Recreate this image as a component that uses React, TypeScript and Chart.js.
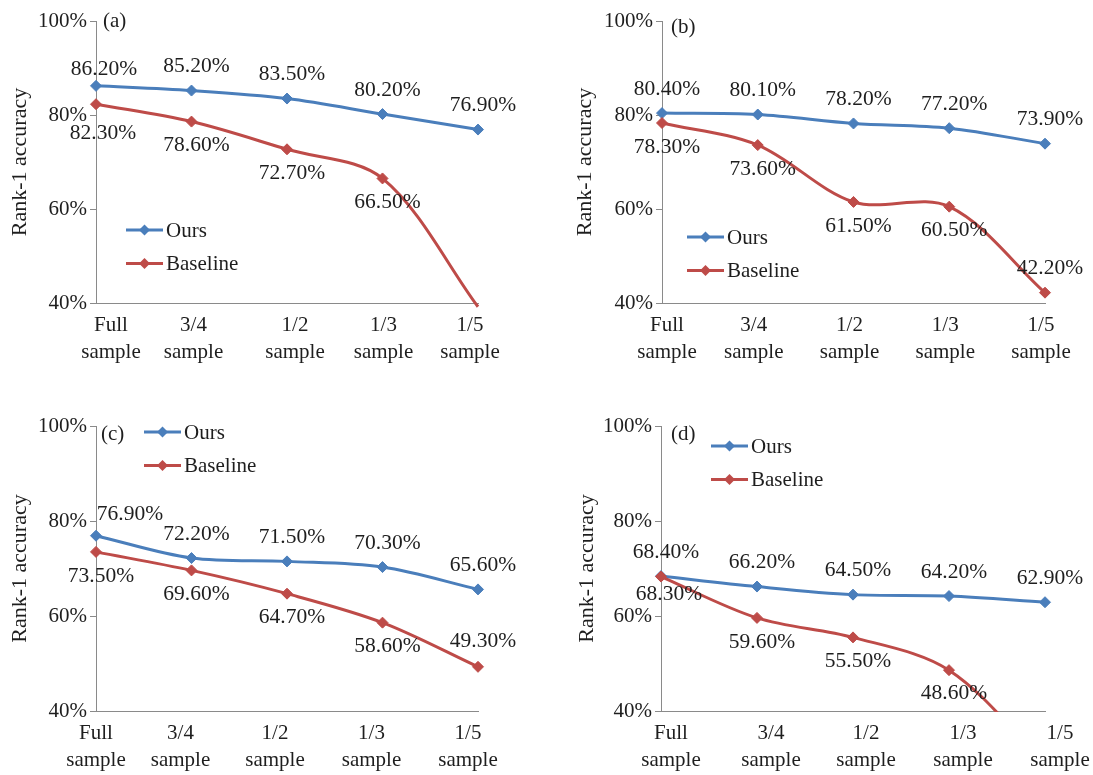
import React, { useEffect, useRef } from 'react';
import { Chart, registerables } from 'chart.js';

Chart.register(...registerables);

// ---------- data ----------
const categories = [
  ['Full', 'sample'],
  ['3/4', 'sample'],
  ['1/2', 'sample'],
  ['1/3', 'sample'],
  ['1/5', 'sample'],
];
const yTicks = [40, 60, 80, 100];
const seriesNames = ['Ours', 'Baseline'];

const oursA = [86.2, 85.2, 83.5, 80.2, 76.9];
const baselineA = [82.3, 78.6, 72.7, 66.5, 39.2];
const oursB = [80.4, 80.1, 78.2, 77.2, 73.9];
const baselineB = [78.3, 73.6, 61.5, 60.5, 42.2];
const oursC = [76.9, 72.2, 71.5, 70.3, 65.6];
const baselineC = [73.5, 69.6, 64.7, 58.6, 49.3];
const oursD = [68.4, 66.2, 64.5, 64.2, 62.9];
const baselineD = [68.3, 59.6, 55.5, 48.6, 29.0];

const panelLetters = ['(a)', '(b)', '(c)', '(d)'];
const yTitle = 'Rank-1 accuracy';

// ---------- styles ----------
const FONT = '"Liberation Serif", "Times New Roman", "DejaVu Serif", serif';
const TEXT = '#1e1e1e';
const AXIS = '#8a8a8a';
const BLUE = '#4A7EBB';
const RED = '#BE4B48';
const LABEL_PX = 21.5;
const TICK_PX = 21;
const TITLE_PX = 22;

const up = [5, -24];
const dn = [5, 24];

const panels = [
  {
    letter: panelLetters[0], ours: oursA, base: baselineA,
    left: 0, top: 0, width: 546, height: 387,
    padTop: 21, axisW: 96, padRight: 68, xAxisH: 84, titlePad: 7,
    xLabelShift: [15, 2, 8, 1, -8], legendPos: [30, 209], letterPos: [7, 0],
    oursLabels: [[8, -17], up, up, up, up],
    baseLabels: [[7, 29], dn, dn, dn, dn],
    clipBottom: 5,
  },
  {
    letter: panelLetters[1], ours: oursB, base: baselineB,
    left: 546, top: 0, width: 547, height: 387,
    padTop: 21, axisW: 116, padRight: 48, xAxisH: 84, titlePad: 26,
    xLabelShift: [5, -4, -4, -4, -4], legendPos: [25, 216], letterPos: [9, 6],
    oursLabels: [up, up, up, up, up],
    baseLabels: [dn, dn, dn, dn, up],
    clipBottom: 5,
  },
  {
    letter: panelLetters[2], ours: oursC, base: baselineC,
    left: 0, top: 387, width: 546, height: 388,
    padTop: 39, axisW: 96, padRight: 68, xAxisH: 64, titlePad: 7,
    xLabelShift: [0, -11, -12, -11, -10], legendPos: [48, 6], letterPos: [5, 8],
    oursLabels: [[34, -21], up, up, up, up],
    baseLabels: [dn, dn, dn, dn, [5, -25]],
    clipBottom: 5,
  },
  {
    letter: panelLetters[3], ours: oursD, base: baselineD,
    left: 546, top: 387, width: 547, height: 388,
    padTop: 39, axisW: 115, padRight: 48, xAxisH: 64, titlePad: 28,
    xLabelShift: [10, 14, 13, 14, 15], legendPos: [50, 20], letterPos: [10, 8],
    oursLabels: [up, up, up, up, up],
    baseLabels: [[8, 18], dn, dn, [5, 23], dn],
    clipBottom: 1,
  },
];

function makeOverlay(panel: any) {
  return {
    id: 'overlay' + panel.letter,
    afterDatasetsDraw(chart: any) {
      const { ctx, chartArea } = chart;
      const yScale = chart.scales.y;
      const xScale = chart.scales.x;
      ctx.save();
      ctx.fillStyle = TEXT;
      ctx.textAlign = 'center';
      ctx.textBaseline = 'middle';
      // category labels (x axis)
      ctx.font = `${TICK_PX}px ${FONT}`;
      const lineH = 27;
      (chart.data.labels as any[]).forEach((lab: any, i: number) => {
        const x = xScale.getPixelForTick(i) + panel.xLabelShift[i];
        const lines = Array.isArray(lab) ? lab : [lab];
        lines.forEach((t: string, k: number) => {
          ctx.fillText(t, x, chartArea.bottom + 22 + k * lineH);
        });
      });
      // data labels
      ctx.font = `${LABEL_PX}px ${FONT}`;
      chart.data.datasets.forEach((ds: any, di: number) => {
        const meta = chart.getDatasetMeta(di);
        const place = di === 0 ? panel.oursLabels : panel.baseLabels;
        meta.data.forEach((pt: any, i: number) => {
          const v = ds.data[i];
          if (v < yScale.min) return;
          const [dx, dy] = place[i];
          ctx.fillText(v.toFixed(2) + '%', pt.x + dx, pt.y + dy);
        });
      });
      // panel letter
      ctx.font = `${TICK_PX}px ${FONT}`;
      ctx.textAlign = 'left';
      ctx.fillText(panel.letter, chartArea.left + panel.letterPos[0], chartArea.top + panel.letterPos[1]);
      // legend
      chart.data.datasets.forEach((ds: any, di: number) => {
        const x0 = chartArea.left + panel.legendPos[0];
        const y = chartArea.top + panel.legendPos[1] + di * 33.5;
        ctx.strokeStyle = ds.borderColor;
        ctx.lineWidth = 3;
        ctx.beginPath();
        ctx.moveTo(x0, y);
        ctx.lineTo(x0 + 37, y);
        ctx.stroke();
        const cx = x0 + 18.5;
        const r = 5.5;
        ctx.fillStyle = ds.borderColor;
        ctx.beginPath();
        ctx.moveTo(cx, y - r);
        ctx.lineTo(cx + r, y);
        ctx.lineTo(cx, y + r);
        ctx.lineTo(cx - r, y);
        ctx.closePath();
        ctx.fill();
        ctx.fillStyle = TEXT;
        ctx.fillText(ds.label, x0 + 40, y + 1);
      });
      ctx.restore();
    },
  };
}

function Panel({ panel }: { panel: any }) {
  const ref = useRef<HTMLCanvasElement>(null);
  useEffect(() => {
    if (!ref.current) return;
    const mkDs = (label: string, data: number[], color: string, order: number) => ({
      label,
      data,
      borderColor: color,
      backgroundColor: color,
      pointBackgroundColor: color,
      pointBorderColor: color,
      borderWidth: 3,
      pointStyle: 'rectRot',
      pointRadius: (c: any) => (c.raw < 40 ? 0 : 5.5),
      pointBorderWidth: 1,
      tension: 0.33,
      order,
      clip: { left: 10, right: 10, top: 10, bottom: panel.clipBottom },
    });
    const chart = new Chart(ref.current, {
      type: 'line',
      data: {
        labels: categories,
        datasets: [
          mkDs(seriesNames[0], panel.ours, BLUE, 1),
          mkDs(seriesNames[1], panel.base, RED, 0),
        ],
      },
      plugins: [makeOverlay(panel)],
      options: {
        animation: false,
        responsive: false,
        devicePixelRatio: 1,
        events: [],
        layout: { padding: { left: 0, top: panel.padTop, right: panel.padRight, bottom: 0 } },
        elements: { line: { capBezierPoints: false } },
        plugins: { legend: { display: false }, tooltip: { enabled: false }, title: { display: false } },
        scales: {
          x: {
            type: 'category',
            offset: false,
            grid: { display: false, drawTicks: false, drawOnChartArea: false },
            border: { display: true, color: AXIS, width: 1 },
            ticks: { display: false, autoSkip: false, maxRotation: 0, minRotation: 0 },
            afterFit: (s: any) => { s.height = panel.xAxisH; },
          },
          y: {
            min: 40,
            max: 100,
            afterBuildTicks: (s: any) => { s.ticks = yTicks.map((v) => ({ value: v })); },
            grid: { display: true, drawOnChartArea: false, drawTicks: true, tickLength: 6, color: AXIS },
            border: { display: true, color: AXIS, width: 1 },
            ticks: {
              padding: 3,
              color: TEXT,
              font: { family: FONT, size: TICK_PX },
              callback: (v: any) => v + '%',
            },
            title: {
              display: true,
              text: yTitle,
              color: TEXT,
              font: { family: FONT, size: TITLE_PX, lineHeight: 1.2 },
              padding: { top: panel.titlePad, bottom: 0 },
            },
            afterFit: (s: any) => { s.width = panel.axisW; },
          },
        },
      },
    } as any);
    return () => chart.destroy();
  }, [panel]);
  return (
    <canvas
      ref={ref}
      width={panel.width}
      height={panel.height}
      style={{ position: 'absolute', left: panel.left, top: panel.top, width: panel.width, height: panel.height }}
    />
  );
}

export default function App() {
  return (
    <div style={{ position: 'absolute', left: 0, top: 0, width: 1093, height: 775, background: '#ffffff', overflow: 'hidden' }}>
      {panels.map((p) => (
        <Panel key={p.letter} panel={p} />
      ))}
    </div>
  );
}
